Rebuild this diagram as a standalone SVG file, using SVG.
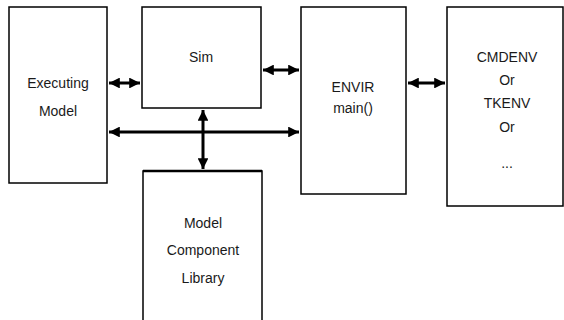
<svg xmlns="http://www.w3.org/2000/svg" width="564" height="320" viewBox="0 0 564 320">
<defs>
<style>
.box{fill:#fff;stroke:#000;stroke-width:1.5}
.t{font-family:"Liberation Sans",Arial,sans-serif;font-size:14px;fill:#1a1a1a;text-anchor:middle}
.c{stroke:#000;stroke-width:3;fill:none}
</style>
<marker id="ah" viewBox="0 0 10 10" refX="10" refY="5" markerWidth="3.6" markerHeight="3.6" orient="auto-start-reverse" markerUnits="strokeWidth">
<path d="M0,0 L10,5 L0,10 z" fill="#000"/>
</marker>
</defs>
<rect width="564" height="320" fill="#fff"/>
<g id="exec">
<rect class="box" x="9" y="7" width="98" height="176"/>
<text class="t" x="58" y="88">Executing</text>
<text class="t" x="58" y="116">Model</text>
</g>
<g id="sim">
<rect class="box" x="142" y="7" width="119" height="101"/>
<text class="t" x="201" y="62">Sim</text>
</g>
<g id="envir">
<rect class="box" x="301" y="7" width="105" height="187"/>
<text class="t" x="353" y="92">ENVIR</text>
<text class="t" x="353" y="113">main()</text>
</g>
<g id="cmdenv">
<rect class="box" x="447" y="7" width="116" height="199"/>
<text class="t" x="507" y="62">CMDENV</text>
<text class="t" x="507" y="85">Or</text>
<text class="t" x="507" y="108">TKENV</text>
<text class="t" x="507" y="132">Or</text>
<text class="t" x="507" y="168" font-size="11">...</text>
</g>
<g id="lib">
<rect class="box" x="143" y="171" width="119" height="160"/>
<line x1="143" y1="171" x2="262" y2="171" stroke="#000" stroke-width="2.5"/>
<text class="t" x="203" y="228">Model</text>
<text class="t" x="203" y="255">Component</text>
<text class="t" x="203" y="283">Library</text>
</g>
<g id="connectors">
<line class="c" x1="109" y1="83" x2="140" y2="83" marker-start="url(#ah)" marker-end="url(#ah)"/>
<line class="c" x1="263" y1="70" x2="299" y2="70" marker-start="url(#ah)" marker-end="url(#ah)"/>
<line class="c" x1="109" y1="132" x2="299" y2="132" marker-start="url(#ah)" marker-end="url(#ah)"/>
<line class="c" x1="203" y1="110" x2="203" y2="169" marker-start="url(#ah)" marker-end="url(#ah)"/>
<line class="c" x1="408" y1="83" x2="445" y2="83" marker-start="url(#ah)" marker-end="url(#ah)"/>
</g>
</svg>
